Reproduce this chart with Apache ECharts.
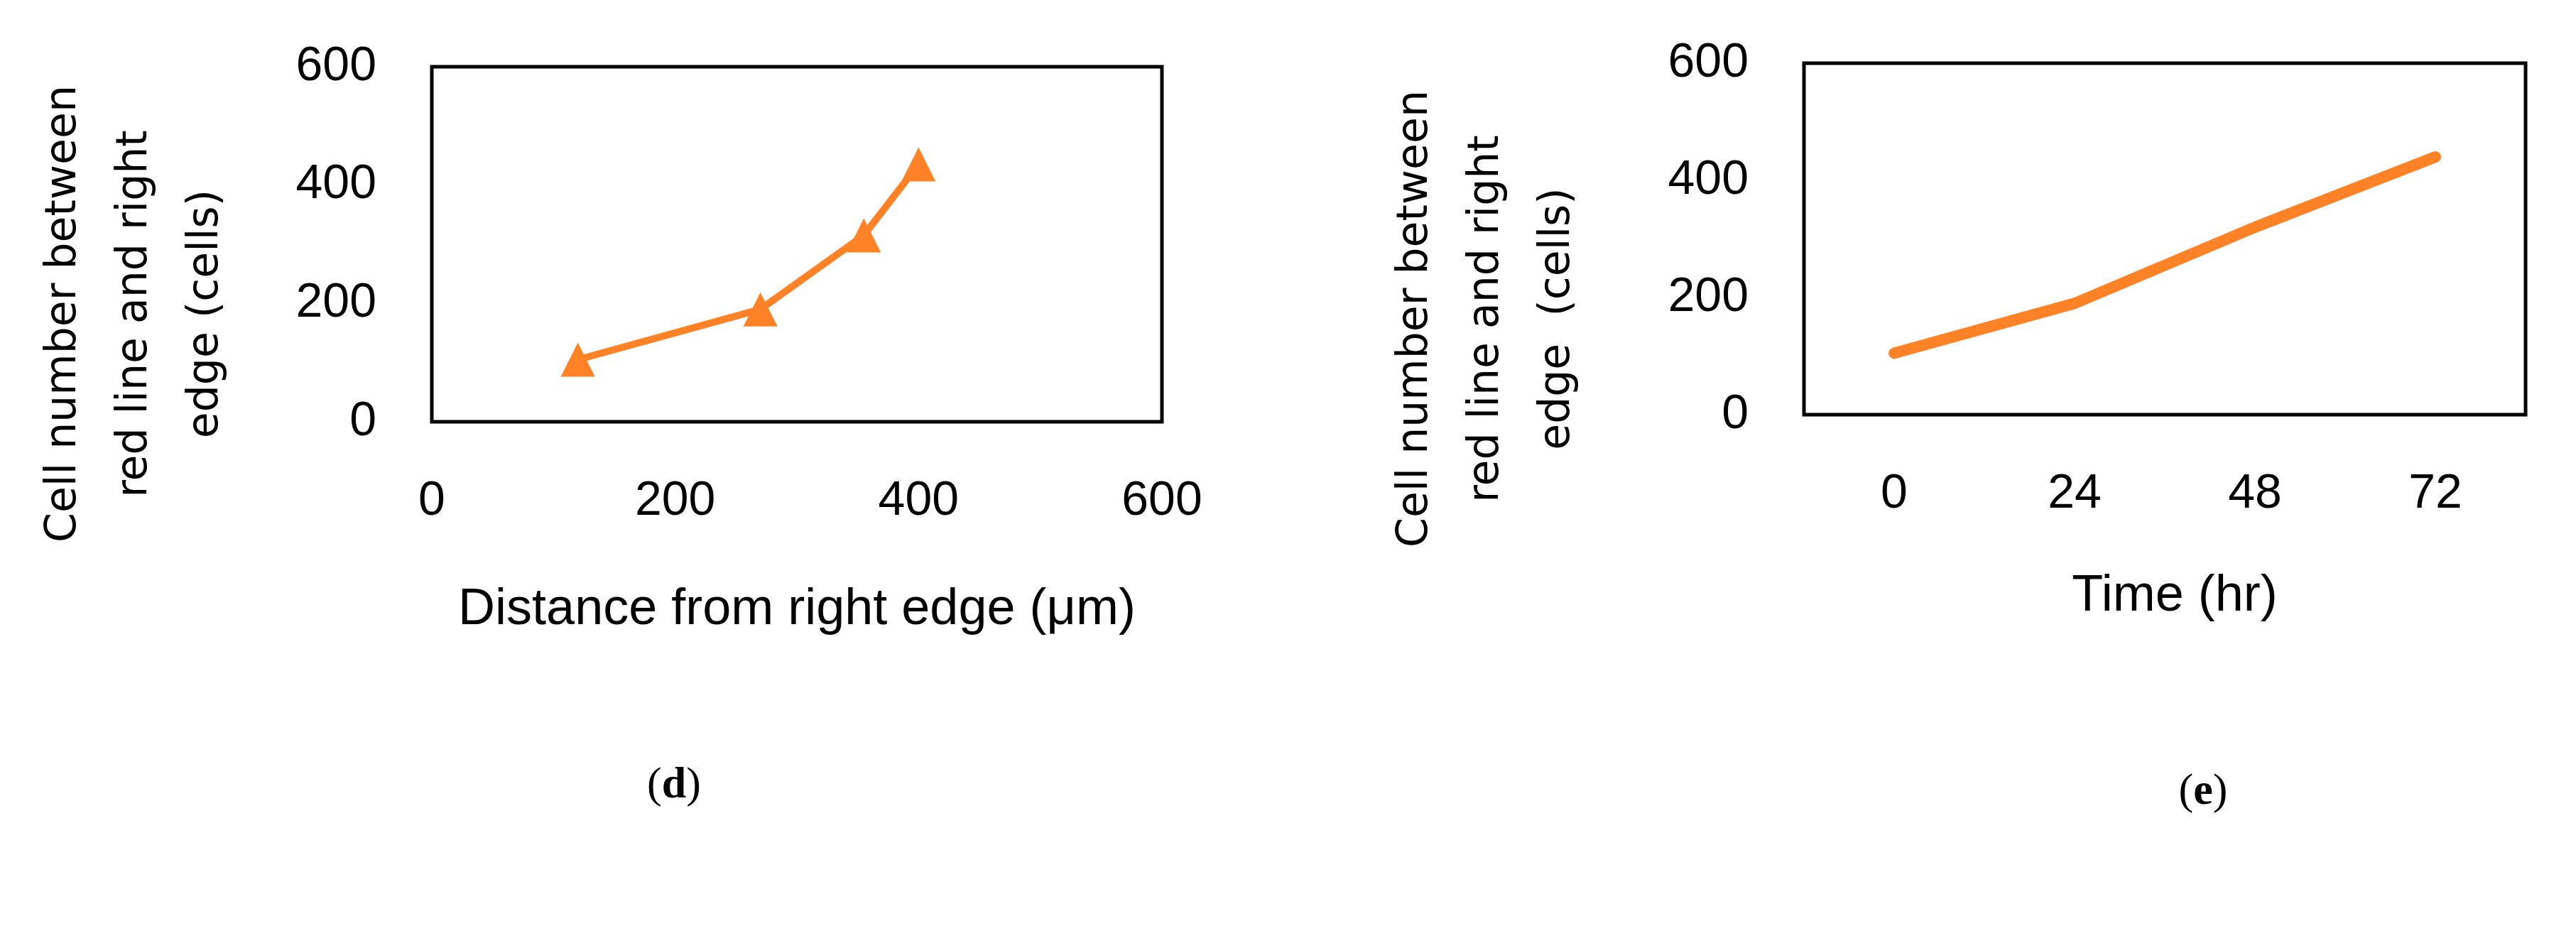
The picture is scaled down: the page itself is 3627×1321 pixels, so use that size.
<!DOCTYPE html>
<html>
<head>
<meta charset="utf-8">
<script src="https://cdn.jsdelivr.net/npm/echarts@6/dist/echarts.min.js"></script>
<style>html,body{margin:0;background:#fff}#c{width:3627px;height:1321px}</style>
</head>
<body>
<div id="c"></div>
<script>
// panel d: distance vs cells
let distX = [120, 270, 355, 400];
let distY = [105, 190, 315, 435];
// panel e: time vs cells
let timeCats = ['0', '24', '48', '72'];
let timeY = [105, 190, 320, 440];

let orange = '#FF8227';
let numFont = '"Liberation Sans Narrow", "Liberation Sans", sans-serif';
let labelStyle = {fontSize: 68, color: '#000', fontFamily: numFont};

let chart = echarts.init(document.getElementById('c'));

function yTitle(x, y, lines) {
  return {
    type: 'text', x: x, y: y, rotation: Math.PI / 2,
    style: {text: lines.join('\n'), fontSize: 60, lineHeight: 100, fill: '#000',
      fontFamily: 'DejaVu Sans', align: 'center', verticalAlign: 'middle'}
  };
}

chart.setOption({
  animation: false,
  grid: [
    {left: 608, top: 94, width: 1028, height: 500, show: true, borderColor: '#000', borderWidth: 5},
    {left: 2540, top: 89, width: 1016, height: 495, show: true, borderColor: '#000', borderWidth: 5}
  ],
  xAxis: [
    {gridIndex: 0, type: 'value', min: 0, max: 600, interval: 200,
      axisLine: {show: false}, axisTick: {show: false}, splitLine: {show: false},
      axisLabel: Object.assign({margin: 78}, labelStyle)},
    {gridIndex: 1, type: 'category', data: timeCats, boundaryGap: true,
      axisLine: {show: false}, axisTick: {show: false}, splitLine: {show: false},
      axisLabel: Object.assign({margin: 78}, labelStyle)}
  ],
  yAxis: [
    {gridIndex: 0, type: 'value', min: 0, max: 600, interval: 200,
      axisLine: {show: false}, axisTick: {show: false}, splitLine: {show: false},
      axisLabel: Object.assign({margin: 78}, labelStyle)},
    {gridIndex: 1, type: 'value', min: 0, max: 600, interval: 200,
      axisLine: {show: false}, axisTick: {show: false}, splitLine: {show: false},
      axisLabel: Object.assign({margin: 78}, labelStyle)}
  ],
  series: [
    {type: 'line', xAxisIndex: 0, yAxisIndex: 0,
      data: distX.map((x, i) => [x, distY[i]]),
      symbol: 'triangle', symbolSize: 48, itemStyle: {color: orange},
      lineStyle: {color: orange, width: 10}},
    {type: 'line', xAxisIndex: 1, yAxisIndex: 1, data: timeY,
      showSymbol: false, lineStyle: {color: orange, width: 16, cap: 'round'}}
  ],
  graphic: [
    yTitle(190, 442, ['Cell number between', 'red line and right', 'edge (cells)']),
    yTitle(2093, 449, ['Cell number between', 'red line and right', 'edge  (cells)']),
    {type: 'text', x: 1122, y: 859, style: {text: 'Distance from right edge (μm)', fontSize: 72,
      fill: '#000', fontFamily: numFont, align: 'center', verticalAlign: 'middle'}},
    {type: 'text', x: 3062, y: 840, style: {text: 'Time (hr)', fontSize: 72,
      fill: '#000', fontFamily: numFont, align: 'center', verticalAlign: 'middle'}},
    {type: 'text', x: 949, y: 1107, style: {text: '({b|d})', fontSize: 62, fill: '#000',
      fontFamily: 'Liberation Serif', align: 'center', verticalAlign: 'middle',
      rich: {b: {fontWeight: 'bold', fontSize: 62, fontFamily: 'Liberation Serif'}}}},
    {type: 'text', x: 3102, y: 1116, style: {text: '({b|e})', fontSize: 62, fill: '#000',
      fontFamily: 'Liberation Serif', align: 'center', verticalAlign: 'middle',
      rich: {b: {fontWeight: 'bold', fontSize: 62, fontFamily: 'Liberation Serif'}}}}
  ]
});
</script>
</body>
</html>
